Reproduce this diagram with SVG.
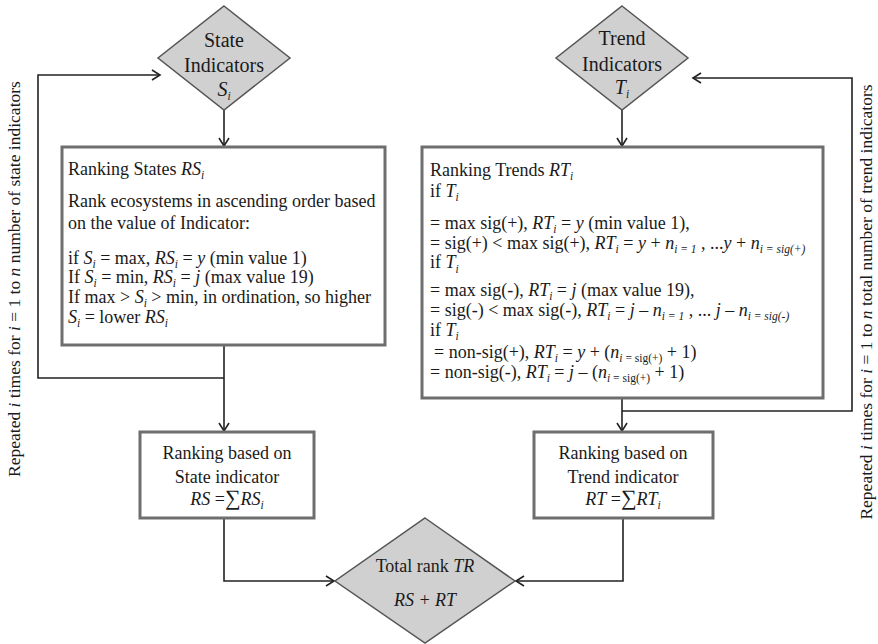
<svg xmlns="http://www.w3.org/2000/svg" width="878" height="644" viewBox="0 0 878 644">
<defs>
<style>
.t{font-family:"Liberation Serif","Times New Roman",serif;font-size:18px;fill:#1a1a1a}
.d{font-size:20px}
.side{font-size:17.5px}
.i{font-style:italic}
.s{font-size:11.5px;font-style:italic}
.su{font-size:11.5px}
.box{fill:#fff;stroke:#6e6e6e;stroke-width:3}
.dia{fill:#d0d0d0;stroke:#555;stroke-width:1.5}
.c{fill:none;stroke:#222;stroke-width:1.6}
</style>
<marker id="ah" markerUnits="userSpaceOnUse" markerWidth="12" markerHeight="12" refX="9" refY="6" orient="auto">
<path d="M1,1 L9,6 L1,11" fill="none" stroke="#222" stroke-width="1.6"/>
</marker>
</defs>
<rect width="878" height="644" fill="#fff"/>

<g id="connectors">
<path class="c" d="M224,110 V146" marker-end="url(#ah)"/>
<path class="c" d="M622,110 V146" marker-end="url(#ah)"/>
<path class="c" d="M224,345 V431" marker-end="url(#ah)"/>
<path class="c" d="M224,378 H38 V75 H160" marker-end="url(#ah)"/>
<path class="c" d="M622,398 V431" marker-end="url(#ah)"/>
<path class="c" d="M622,411 H852 V78 H693" marker-end="url(#ah)"/>
<path class="c" d="M224,518 V581 H334" marker-end="url(#ah)"/>
<path class="c" d="M623,518 V581 H516" marker-end="url(#ah)"/>
</g>

<g id="state-indicators">
<polygon class="dia" points="224,6 290,58 224,110 158,58"/>
<text class="t d" x="224" y="47" text-anchor="middle">State</text>
<text class="t d" x="224" y="72" text-anchor="middle">Indicators</text>
<text class="t d" x="224" y="96" text-anchor="middle"><tspan class="i">S</tspan><tspan class="s" dy="4">i</tspan></text>
</g>

<g id="trend-indicators">
<polygon class="dia" points="622,6 688,58 622,110 556,58"/>
<text class="t d" x="622" y="45" text-anchor="middle">Trend</text>
<text class="t d" x="622" y="71" text-anchor="middle">Indicators</text>
<text class="t d" x="622" y="94" text-anchor="middle"><tspan class="i">T</tspan><tspan class="s" dy="4">i</tspan></text>
</g>

<g id="ranking-states">
<rect class="box" x="62" y="147" width="323" height="198"/>
<text class="t" x="68" y="175">Ranking States <tspan class="i">RS</tspan><tspan class="s" dy="4">i</tspan></text>
<text class="t" x="68" y="207">Rank ecosystems in ascending order based</text>
<text class="t" x="68" y="229">on the value of Indicator:</text>
<text class="t" x="68" y="264">if <tspan class="i">S</tspan><tspan class="s" dy="4">i</tspan><tspan dy="-4"> = max, </tspan><tspan class="i">RS</tspan><tspan class="s" dy="4">i</tspan><tspan dy="-4"> = </tspan><tspan class="i">y</tspan> (min value 1)</text>
<text class="t" x="68" y="283">If <tspan class="i">S</tspan><tspan class="s" dy="4">i</tspan><tspan dy="-4"> = min, </tspan><tspan class="i">RS</tspan><tspan class="s" dy="4">i</tspan><tspan dy="-4"> = </tspan><tspan class="i">j</tspan> (max value 19)</text>
<text class="t" x="68" y="303">If  max &gt; <tspan class="i">S</tspan><tspan class="s" dy="4">i</tspan><tspan dy="-4"> &gt; min, in ordination, so higher</tspan></text>
<text class="t" x="68" y="323"><tspan class="i">S</tspan><tspan class="s" dy="4">i</tspan><tspan dy="-4"> = lower </tspan><tspan class="i">RS</tspan><tspan class="s" dy="4">i</tspan></text>
</g>

<g id="ranking-trends">
<rect class="box" x="422" y="147" width="401" height="251"/>
<text class="t" x="430" y="176">Ranking Trends <tspan class="i">RT</tspan><tspan class="s" dy="4">i</tspan></text>
<text class="t" x="430" y="197">if <tspan class="i">T</tspan><tspan class="s" dy="4">i</tspan></text>
<text class="t" x="430" y="229">= max sig(+), <tspan class="i">RT</tspan><tspan class="s" dy="4">i</tspan><tspan dy="-4"> = </tspan><tspan class="i">y</tspan> (min value 1),</text>
<text class="t" x="430" y="249">= sig(+) &lt; max sig(+), <tspan class="i">RT</tspan><tspan class="s" dy="4">i</tspan><tspan dy="-4"> = </tspan><tspan class="i">y</tspan> + <tspan class="i">n</tspan><tspan class="s" dy="4">i = 1</tspan><tspan dy="-4"> , ...</tspan><tspan class="i">y</tspan> + <tspan class="i">n</tspan><tspan class="s" dy="4">i = sig(+)</tspan></text>
<text class="t" x="430" y="268">if <tspan class="i">T</tspan><tspan class="s" dy="5">i</tspan></text>
<text class="t" x="430" y="296">= max sig(-), <tspan class="i">RT</tspan><tspan class="s" dy="4">i</tspan><tspan dy="-4"> = </tspan><tspan class="i">j</tspan> (max value 19),</text>
<text class="t" x="430" y="316">= sig(-) &lt; max sig(-), <tspan class="i">RT</tspan><tspan class="s" dy="4">i</tspan><tspan dy="-4"> = </tspan><tspan class="i">j</tspan> – <tspan class="i">n</tspan><tspan class="s" dy="4">i = 1</tspan><tspan dy="-4"> , ... </tspan><tspan class="i">j</tspan> – <tspan class="i">n</tspan><tspan class="s" dy="4">i = sig(-)</tspan></text>
<text class="t" x="430" y="336">if <tspan class="i">T</tspan><tspan class="s" dy="4">i</tspan></text>
<text class="t" x="434" y="358">= non-sig(+), <tspan class="i">RT</tspan><tspan class="s" dy="4">i</tspan><tspan dy="-4"> = </tspan><tspan class="i">y</tspan> + (<tspan class="i">n</tspan><tspan class="s" dy="4">i</tspan><tspan class="su"> = sig(+)</tspan><tspan dy="-4"> + 1)</tspan></text>
<text class="t" x="430" y="378">= non-sig(-), <tspan class="i">RT</tspan><tspan class="s" dy="4">i</tspan><tspan dy="-4"> = </tspan><tspan class="i">j</tspan> – (<tspan class="i">n</tspan><tspan class="s" dy="4">i</tspan><tspan class="su"> = sig(+)</tspan><tspan dy="-4"> + 1)</tspan></text>
</g>

<g id="ranking-state-indicator">
<rect class="box" x="140" y="432" width="174" height="86"/>
<text class="t" x="227" y="459" text-anchor="middle">Ranking based on</text>
<text class="t" x="227" y="483" text-anchor="middle">State indicator</text>
<text class="t" x="227" y="505" text-anchor="middle"><tspan class="i">RS</tspan> =<tspan font-size="22">∑</tspan><tspan class="i">RS</tspan><tspan class="s" dy="4">i</tspan></text>
</g>

<g id="ranking-trend-indicator">
<rect class="box" x="534" y="432" width="179" height="86"/>
<text class="t" x="623" y="459" text-anchor="middle">Ranking based on</text>
<text class="t" x="623" y="483" text-anchor="middle">Trend indicator</text>
<text class="t" x="623" y="505" text-anchor="middle"><tspan class="i">RT</tspan> =<tspan font-size="22">∑</tspan><tspan class="i">RT</tspan><tspan class="s" dy="4">i</tspan></text>
</g>

<g id="total-rank">
<polygon class="dia" points="425,518 515,581 425,643 335,581"/>
<text class="t" x="425" y="572" text-anchor="middle">Total rank <tspan class="i">TR</tspan></text>
<text class="t i" x="425" y="606" text-anchor="middle">RS + RT</text>
</g>

<g id="side-labels">
<text class="t side" transform="translate(20,279) rotate(-90)" text-anchor="middle">Repeated <tspan class="i">i</tspan> times for <tspan class="i">i</tspan> = 1 to <tspan class="i">n</tspan> number of state indicators</text>
<text class="t side" transform="translate(872,302) rotate(-90)" text-anchor="middle">Repeated <tspan class="i">i</tspan> times for <tspan class="i">i</tspan> = 1 to <tspan class="i">n</tspan> total number of trend indicators</text>
</g>
</svg>
